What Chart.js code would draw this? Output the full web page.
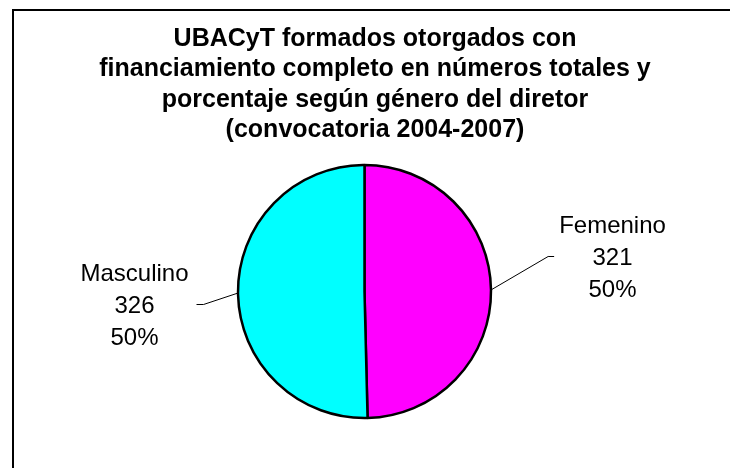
<!DOCTYPE html>
<html><head><meta charset="utf-8">
<script src="https://cdn.jsdelivr.net/npm/chart.js@4"></script>
<style>html,body{margin:0;padding:0;background:#fff}canvas{display:block}</style>
</head><body>
<canvas id="c" width="730" height="468"></canvas>
<script>
// ── Data ──
const categories=['Femenino','Masculino'];
const counts=[321,326];
const sliceColors=['#FF00FF','#00FFFF'];
const titleLines=['UBACyT formados otorgados con','financiamiento completo en números totales y','porcentaje según género del diretor','(convocatoria 2004-2007)'];

// label placement, relative to pie centre (middle text line)
const labelOffsets=[{dx:248,dy:-35},{dx:-230,dy:13}];

const FONT='"Liberation Sans", Arial, sans-serif';
const total=counts.reduce((a,b)=>a+b,0);

// ── Frame, title, data labels ──
const framePlugin={
  id:'frame',
  beforeDraw(chart){
    const ctx=chart.ctx;
    ctx.save();
    ctx.fillStyle='#fff';ctx.fillRect(0,0,chart.width,chart.height);
    ctx.fillStyle='#000';
    ctx.fillRect(12,9,chart.width,2);
    ctx.fillRect(12,9,2,chart.height);
    ctx.font='bold 25px '+FONT;
    ctx.textAlign='center';ctx.textBaseline='alphabetic';
    titleLines.forEach((t,i)=>ctx.fillText(t,375,46+i*30.3));
    ctx.restore();
  },
  afterDatasetsDraw(chart){
    const ctx=chart.ctx;
    const arcs=chart.getDatasetMeta(0).data;
    ctx.save();
    ctx.font='24px '+FONT;
    ctx.fillStyle='#000';ctx.strokeStyle='#000';ctx.lineWidth=1;
    arcs.forEach((arc,i)=>{
      const {x,y,startAngle,endAngle,outerRadius}=arc.getProps(['x','y','startAngle','endAngle','outerRadius'],true);
      const mid=(startAngle+endAngle)/2;
      const ex=x+Math.cos(mid)*outerRadius,ey=y+Math.sin(mid)*outerRadius;
      const lines=[categories[i],String(counts[i]),Math.round(counts[i]/total*100)+'%'];
      const lx=x+labelOffsets[i].dx,ly=y+labelOffsets[i].dy;
      const w=Math.max(...lines.map(s=>ctx.measureText(s).width));
      const right=labelOffsets[i].dx>0;
      const endX=right?lx-w/2-5:lx+w/2+8;
      const elbowX=right?endX-6:endX+7;
      ctx.beginPath();ctx.moveTo(ex,ey);ctx.lineTo(elbowX,ly);ctx.lineTo(endX,ly);ctx.stroke();
      ctx.textAlign='center';ctx.textBaseline='alphabetic';
      lines.forEach((s,j)=>ctx.fillText(s,lx,ly+8.6+(j-1)*31.8));
    });
    ctx.restore();
  }
};

new Chart(document.getElementById('c'),{
  type:'pie',
  data:{labels:categories,datasets:[{data:counts,backgroundColor:sliceColors,borderColor:'#000',borderWidth:2.5,radius:126.5}]},
  options:{
    responsive:false,animation:false,
    layout:{padding:{left:229.5,right:230.5,top:160,bottom:45}},
    plugins:{legend:{display:false},tooltip:{enabled:false},title:{display:false}}
  },
  plugins:[framePlugin]
});
</script>
</body></html>
